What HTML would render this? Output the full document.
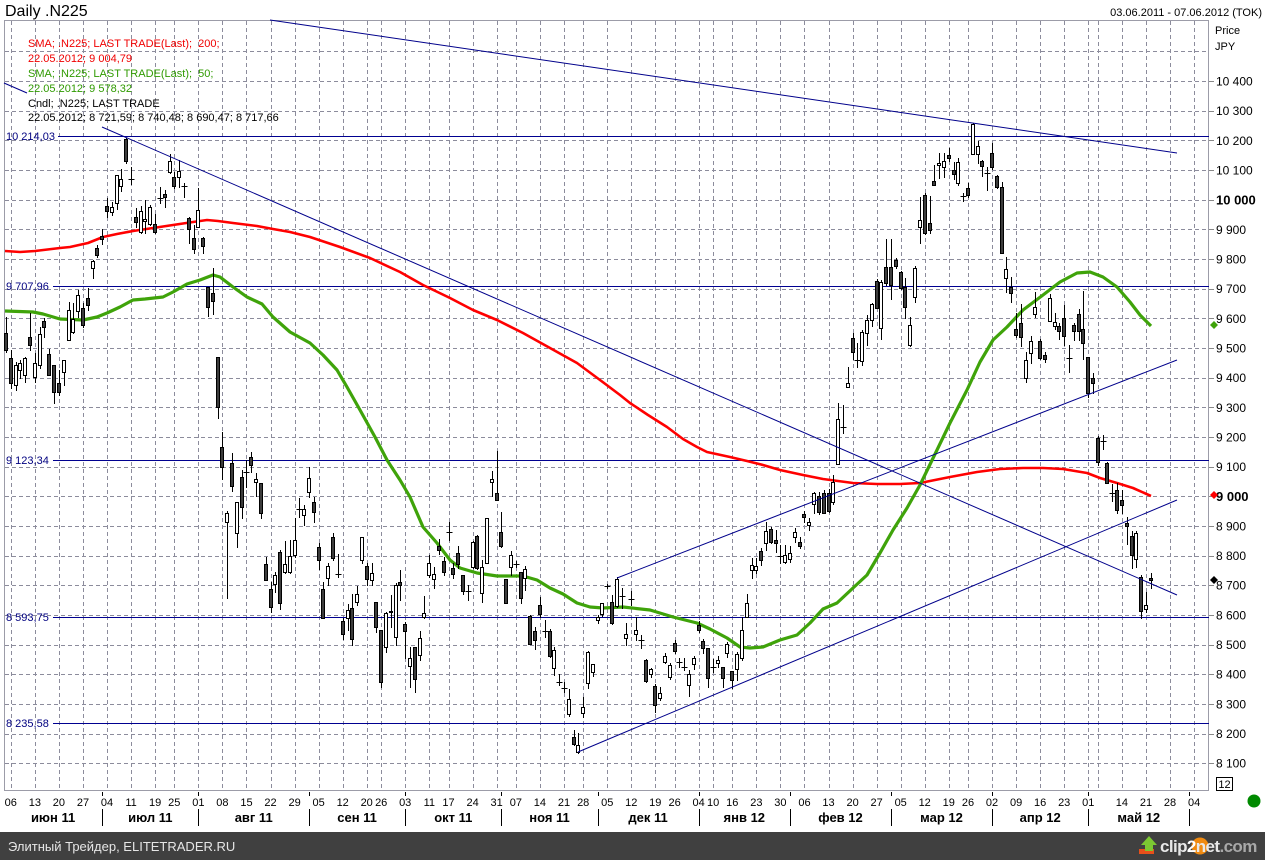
<!DOCTYPE html>
<html><head><meta charset="utf-8">
<style>
html,body{margin:0;padding:0;background:#fff;overflow:hidden;}
svg{display:block;font-family:"Liberation Sans",Arial,"DejaVu Sans",sans-serif;}
.pre{white-space:pre;}
</style></head>
<body>
<svg id="s" width="1265" height="860" viewBox="0 0 1265 860" xmlns="http://www.w3.org/2000/svg">
<rect x="0" y="0" width="1265" height="860" fill="#fff"/>
<g id="grid" stroke="#8c8c9c" stroke-width="1" stroke-dasharray="4,3" shape-rendering="crispEdges"></g>
<rect x="4.5" y="20.5" width="1204" height="770" fill="none" stroke="#9c9ca8" stroke-width="1" shape-rendering="crispEdges"/>
<text x="5" y="16" font-size="16" fill="#000">Daily .N225</text>
<text x="1262" y="16" font-size="11" fill="#000" text-anchor="end">03.06.2011 - 07.06.2012 (TOK)</text>
<g font-size="11">
<text class="pre" x="28" y="47" fill="#f00000" xml:space="preserve">SMA; .N225; LAST TRADE(Last);  200;</text>
<text x="28" y="62" fill="#f00000">22.05.2012; 9 004,79</text>
<text class="pre" x="28" y="77" fill="#2f9a00" xml:space="preserve">SMA; .N225; LAST TRADE(Last);  50;</text>
<text x="28" y="92" fill="#2f9a00">22.05.2012; 9 578,32</text>
<text x="28" y="107" fill="#000">Cndl; .N225; LAST TRADE</text>
<text x="28" y="121" fill="#000">22.05.2012; 8 721,59; 8 740,48; 8 690,47; 8 717,66</text>
</g>
<g stroke="#000090" stroke-width="1" shape-rendering="crispEdges">
<line x1="58" y1="136.5" x2="1209" y2="136.5"/>
<line x1="53" y1="286.5" x2="1209" y2="286.5"/>
<line x1="53" y1="460.5" x2="1209" y2="460.5"/>
<line x1="53" y1="617.5" x2="1209" y2="617.5"/>
<line x1="53" y1="723.5" x2="1209" y2="723.5"/>
</g>
<g font-size="11" fill="#000080">
<text x="6" y="140">10 214,03</text>
<text x="6" y="290">9 707,96</text>
<text x="6" y="464">9 123,34</text>
<text x="6" y="621">8 593,75</text>
<text x="6" y="727">8 235,58</text>
</g>
<polyline fill="none" stroke="#ff0000" stroke-width="2.6" stroke-linejoin="round" points="5,251 20,252 35,251 60,248 70,247 88,243 103,237 117,234 133,231 153,228 173,225 193,222 207,220 218,221 233,223 257,226 273,229 290,232 310,237 340,247 370,258 400,272 423,285 450,298 473,310 497,320 523,333 550,348 577,363 600,380 620,395 630,403 648,415 667,427 683,439 697,447 707,452 730,457 747,461 763,465 780,470 803,475 823,479 853,483 877,484 900,484 920,483 950,477 977,472 1000,469 1023,468 1043,468 1063,469 1087,473 1100,478 1117,483 1133,488 1151,496"/>
<polyline fill="none" stroke="#3fa30a" stroke-width="3.2" stroke-linejoin="round" points="5,311 33,312 43,314 60,319 83,320 97,317 107,313 120,307 133,300 145,299 163,297 173,292 187,284 200,280 213,275 220,277 233,287 247,297 262,304 273,317 290,332 310,343 323,355 337,370 347,387 360,410 375,437 387,460 400,480 410,497 423,527 437,543 450,560 460,568 477,573 497,576 523,576 537,580 550,588 563,594 577,603 590,607 603,608 623,607 650,610 673,617 697,623 710,629 727,638 740,647 750,648 763,647 780,640 797,635 810,623 823,609 837,603 853,588 867,575 880,553 893,530 907,508 920,485 937,450 950,423 967,390 980,362 993,340 1007,327 1023,310 1043,295 1060,282 1077,273 1090,272 1103,277 1117,287 1130,302 1140,315 1151,326"/>
<g id="cd" stroke="#000" stroke-width="1" shape-rendering="crispEdges"></g>
<g stroke="#00008b" stroke-width="1" fill="none">
<line x1="270" y1="20" x2="1177" y2="153"/>
<line x1="4" y1="83" x2="27" y2="93"/>
<line x1="102" y1="127" x2="1177" y2="595"/>
<line x1="578" y1="752" x2="1177" y2="500"/>
<line x1="617" y1="578" x2="1177" y2="360"/>
</g>
<g id="yax" font-size="12" fill="#000"></g>
<text x="1215" y="34" font-size="11">Price</text>
<text x="1215" y="50" font-size="11">JPY</text>
<polygon points="1210,325 1214,321 1218,325 1214,329" fill="#3fa30a"/>
<polygon points="1210,495 1214,491 1218,495 1214,499" fill="#ff0000"/>
<polygon points="1210,580 1214,576 1218,580 1214,584" fill="#000"/>
<rect x="1216.5" y="777.5" width="16" height="13" fill="#fff" stroke="#000" stroke-width="1" shape-rendering="crispEdges"/>
<text x="1224.5" y="788" font-size="11" text-anchor="middle">12</text>
<circle cx="1254" cy="801" r="6.5" fill="#008a00"/>
<g id="xax" font-size="11" fill="#000" text-anchor="middle"></g>
<g id="mon" font-size="13" font-weight="bold" fill="#000" text-anchor="middle"></g>
<rect x="0" y="832" width="1265" height="28" fill="#404040"/>
<text x="8" y="851" font-size="13" fill="#e6e6e6">Элитный Трейдер, ELITETRADER.RU</text>
<rect x="1139" y="849" width="15" height="5" fill="#e8501a"/>
<polygon points="1149,836 1157,845 1153,845 1153,851 1145,851 1145,845 1141,845" fill="#7cc832"/>
<circle cx="1200" cy="846" r="8.5" fill="#f08a10"/>
<text x="1160" y="852" font-size="17" font-weight="bold" fill="#e8e8e8" letter-spacing="-0.6">clip<tspan fill="#fff">2</tspan>net<tspan fill="#a8a8a8">.com</tspan></text>
</svg>
<script>
(function(){
function X(i){return 6+(i-1)*4.81;}
function Y(p){return 81+(10400-p)*0.2966;}
var g="";
for(var p=8100;p<=10500;p+=100){var y=Math.round(Y(p))+0.5;g+='<line x1="5" y1="'+y+'" x2="1209" y2="'+y+'"/>';}
var wk=[2,7,12,17,22,27,32,36,41,46,51,56,61,66,71,76,79,84,89,93,98,103,107,112,117,121,126,131,136,140,145,148,152,157,162,167,172,177,182,187,192,197,201,206,211,216,221,226,228,233,238,243,248];
wk.forEach(function(i){var x=Math.round(X(i))+0.5;g+='<line x1="'+x+'" y1="21" x2="'+x+'" y2="790"/>';});
document.getElementById("grid").innerHTML=g;
var ya="";
for(var p=8100;p<=10400;p+=100){var y=Y(p);var yy=Math.round(y)+0.5;
 ya+='<line x1="1209" y1="'+yy+'" x2="1214" y2="'+yy+'" stroke="#888" stroke-width="1" shape-rendering="crispEdges"/>';
 var s=(p>=10000?("10 "+String(p-10000).padStart(3,"0")):(String(Math.floor(p/1000))+" "+String(p%1000).padStart(3,"0")));
 if(p%1000==0){ya+='<text x="1216" y="'+(y+5)+'" font-size="13" font-weight="bold">'+s+'</text>';}
 else ya+='<text x="1216" y="'+(y+4.5)+'">'+s+'</text>';}
document.getElementById("yax").innerHTML=ya;
var lab=[[2,"06"],[7,"13"],[12,"20"],[17,"27"],[22,"04"],[27,"11"],[32,"19"],[36,"25"],[41,"01"],[46,"08"],[51,"15"],[56,"22"],[61,"29"],[66,"05"],[71,"12"],[76,"20"],[79,"26"],[84,"03"],[89,"11"],[93,"17"],[98,"24"],[103,"31"],[107,"07"],[112,"14"],[117,"21"],[121,"28"],[126,"05"],[131,"12"],[136,"19"],[140,"26"],[145,"04"],[148,"10"],[152,"16"],[157,"23"],[162,"30"],[167,"06"],[172,"13"],[177,"20"],[182,"27"],[187,"05"],[192,"12"],[197,"19"],[201,"26"],[206,"02"],[211,"09"],[216,"16"],[221,"23"],[226,"01"],[233,"14"],[238,"21"],[243,"28"],[248,"04"]];
var xa="";
lab.forEach(function(l){xa+='<text x="'+X(l[0]).toFixed(1)+'" y="806">'+l[1]+'</text>';});
document.getElementById("xax").innerHTML=xa;
var seps=[21,41,64,84,104,124,145,164,185,206,226,247];
var names=["июн 11","июл 11","авг 11","сен 11","окт 11","ноя 11","дек 11","янв 12","фев 12","мар 12","апр 12","май 12"];
var m="",prev=4;
seps.forEach(function(i,k){var x=Math.round(X(i))+0.5;
 m+='<line x1="'+x+'" y1="809" x2="'+x+'" y2="826" stroke="#000" stroke-width="1" shape-rendering="crispEdges"/>';
 m+='<line x1="'+x+'" y1="792" x2="'+x+'" y2="796" stroke="#000" stroke-width="1" shape-rendering="crispEdges"/>';
 m+='<text x="'+((prev+X(i))/2).toFixed(1)+'" y="822">'+names[k]+'</text>';prev=X(i);});
document.getElementById("mon").innerHTML=m;
var D=[[333,350,317,352,1],[358,383,350,388,1],[365,385,362,390,0],[363,370,360,378,0],[358,375,357,382,0],[337,345,313,350,1],[363,377,353,382,0],[334,365,327,368,0],[321,327,318,337,1],[354,375,349,375,1],
[365,392,365,403,1],[383,392,370,395,1],[360,372,360,385,0],[310,340,302,340,0],[319,332,303,333,0],[295,311,290,317,0],[308,325,303,327,1],[298,305,288,310,1],[261,268,260,278,0],[248,255,245,257,1],
[236,239,229,244,1],[206,211,198,217,1],[207,212,202,215,0],[175,203,175,209,0],[179,186,169,191,0],[139,161,138,163,1],[179,179,167,184,2],[217,222,208,227,1],[211,232,206,233,0],[219,221,200,233,0],
[207,224,205,225,0],[224,232,214,233,1],[198,198,187,203,2],[194,197,190,207,1],[161,172,154,173,0],[177,186,172,188,1],[171,177,160,187,0],[186,186,183,197,2],[218,229,217,243,1],[238,249,225,253,1],
[210,227,188,227,0],[238,246,237,253,1],[287,307,287,316,1],[293,301,268,314,1],[357,407,357,418,1],[447,467,432,479,1],[513,522,511,598,0],[463,486,453,491,1],[502,533,502,547,0],[477,507,470,518,1],
[472,472,460,487,2],[457,465,452,472,1],[479,482,473,496,0],[483,513,483,518,1],[564,580,557,580,1],[589,607,582,612,1],[575,584,572,592,0],[552,603,550,609,1],[564,572,541,573,0],[556,572,540,573,0],
[540,555,518,557,0],[509,509,498,517,2],[509,515,505,525,0],[478,492,467,497,0],[502,512,497,522,1],[547,560,543,569,1],[589,618,582,618,1],[566,578,563,585,0],[537,558,533,560,1],[574,574,554,577,2],
[621,634,618,639,1],[610,618,604,630,0],[608,639,594,645,1],[594,602,586,605,0],[537,560,537,563,0],[566,579,563,585,1],[573,580,563,585,0],[602,627,602,632,1],[630,682,630,687,1],[613,647,612,652,0],
[611,612,595,627,0],[585,637,583,645,0],[582,585,570,600,1],[624,631,622,658,1],[658,666,647,687,0],[647,679,647,692,1],[638,655,631,660,0],[613,617,596,618,0],[563,575,555,577,0],[574,579,567,588,0],
[546,550,539,554,1],[561,572,557,575,1],[532,532,522,540,2],[568,574,563,578,1],[553,564,546,568,1],[575,591,575,594,1],[591,591,585,600,2],[542,567,541,568,0],[536,568,535,569,1],[567,593,560,602,0],
[518,563,518,563,0],[479,482,471,496,0],[493,500,451,500,1],[532,546,512,547,1],[579,603,579,603,1],[555,567,551,575,0],[564,564,561,567,2],[572,598,572,603,1],[569,578,566,590,0],[616,644,615,644,1],
[631,640,627,649,1],[605,614,597,617,1],[631,631,620,637,2],[631,656,629,657,1],[650,668,647,675,0],[682,682,674,685,2],[688,688,682,692,2],[699,714,689,716,0],[737,744,730,745,1],[745,752,733,753,0],
[707,713,697,717,0],[652,683,651,688,0],[664,672,664,676,0],[617,620,615,623,0],[603,614,603,616,0],[586,586,584,588,2],[602,623,595,624,1],[579,606,577,607,0],[596,596,588,608,2],[634,638,623,645,0],
[599,599,591,605,2],[630,634,617,640,0],[640,640,635,648,2],[660,681,659,682,1],[669,674,668,677,0],[686,705,684,712,1],[693,698,687,700,0],[656,662,653,663,0],[665,677,663,679,0],[643,651,640,653,1],
[662,662,658,667,2],[667,667,658,670,2],[674,685,670,696,0],[658,664,656,669,0],[625,630,621,632,1],[641,648,639,653,1],[648,678,648,687,1],[667,667,659,672,2],[660,663,656,667,0],[667,678,667,687,1],
[644,653,642,657,0],[671,680,671,688,1],[654,669,652,680,0],[630,658,617,660,0],[603,617,594,617,0],[565,570,558,578,0],[566,570,558,573,0],[551,560,548,565,1],[531,543,522,550,0],[529,542,527,543,1],
[540,543,530,552,1],[556,556,545,563,2],[555,562,545,563,0],[553,559,546,562,0],[532,537,528,542,0],[542,546,537,548,1],[514,517,511,522,1],[522,525,518,530,0],[493,504,492,513,0],[496,512,492,514,1],
[493,513,490,513,1],[493,511,489,512,1],[482,502,475,504,0],[419,464,403,464,0],[427,427,405,433,2],[383,387,367,387,0],[338,352,333,359,1],[360,360,343,367,2],[332,361,330,365,0],[320,333,315,345,0],
[304,320,303,326,0],[281,308,279,308,1],[282,328,280,339,0],[267,283,239,285,1],[267,285,239,299,1],[260,266,258,268,1],[272,288,271,289,1],[287,307,278,318,1],[325,345,317,346,0],[268,297,266,302,0],
[220,227,197,243,0],[195,233,193,234,1],[223,230,196,233,1],[181,185,165,185,1],[163,165,153,178,0],[161,167,153,177,0],[155,158,148,161,1],[170,174,162,179,1],[162,183,158,185,0],[196,196,193,201,2],
[188,195,183,197,1],[124,154,123,154,0],[146,154,141,163,0],[161,166,160,176,1],[173,173,167,190,2],[153,167,143,169,1],[176,187,175,188,1],[187,253,182,253,1],[269,278,257,292,0],[287,293,277,302,1],
[329,335,313,337,1],[323,337,304,346,1],[360,378,352,382,0],[341,353,336,363,0],[307,314,292,317,0],[341,358,339,359,1],[355,359,352,362,1],[298,321,294,321,0],[322,326,313,329,0],[326,331,323,339,1],
[318,336,305,345,1],[358,358,345,372,2],[325,331,323,340,1],[314,331,309,340,1],[329,343,291,359,1],[357,393,357,397,1],[378,383,373,393,1],[438,462,436,465,1],[441,441,435,449,2],[463,483,462,483,1],
[493,493,484,501,2],[490,510,483,513,1],[500,505,490,513,1],[523,526,517,544,1],[536,555,531,568,1],[533,559,531,567,0],[577,611,575,618,1],[605,609,592,612,0],[578,580,573,588,1]];
var c="";
D.forEach(function(d,k){var i=k+1;var cx=Math.round(X(i))+0.5;var bt=d[0],bb=d[1],wt=d[2],wb=d[3],t=d[4];
 c+='<line x1="'+cx+'" y1="'+wt+'" x2="'+cx+'" y2="'+(wb+1)+'"/>';
 if(t==2){c+='<line x1="'+(cx-3)+'" y1="'+(bt+0.5)+'" x2="'+(cx+3)+'" y2="'+(bt+0.5)+'"/>';}
 else{var h=Math.max(bb-bt,1);c+='<rect x="'+(cx-2)+'" y="'+(bt+0.5)+'" width="3" height="'+h+'" fill="'+(t?'#3c3c3c':'#ffffff')+'"/>';}
});
document.getElementById("cd").innerHTML=c;
})();
</script>
</body></html>
